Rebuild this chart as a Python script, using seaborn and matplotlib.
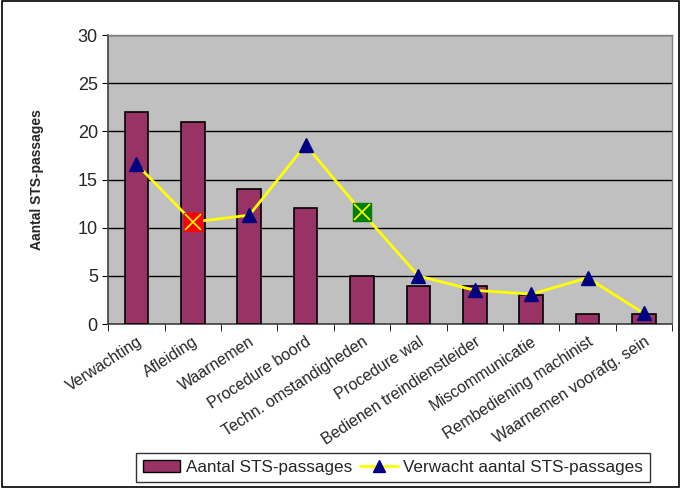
import numpy as np
import pandas as pd
import matplotlib
matplotlib.use('Agg')
import matplotlib.pyplot as plt
import seaborn as sns
from matplotlib.lines import Line2D
from matplotlib.patches import Patch

# data
oorzaken = ['Verwachting', 'Afleiding', 'Waarnemen', 'Procedure boord',
            'Techn. omstandigheden', 'Procedure wal', 'Bedienen treindienstleider',
            'Miscommunicatie', 'Rembediening machinist', 'Waarnemen voorafg. sein']
aantal = [22, 21, 14, 12, 5, 4, 4, 3, 1, 1]
verwacht = [16.6, 10.6, 11.3, 18.6, 11.6, 5.0, 3.5, 3.1, 4.8, 1.1]

df = pd.DataFrame({'oorzaak': oorzaken, 'aantal': aantal, 'verwacht': verwacht})

sns.set_style('white')
plt.rcParams['font.family'] = ['Liberation Sans', 'DejaVu Sans']

fig = plt.figure(figsize=(6.81, 4.88), dpi=100)
ax = fig.add_axes([0.159, 0.336, 0.828, 0.592])
ax.set_facecolor('#C0C0C0')

sns.barplot(data=df, x='oorzaak', y='aantal', color='#993366', width=0.42,
            edgecolor='black', linewidth=1.2, saturation=1, ax=ax, zorder=3)

x = np.arange(len(oorzaken))
ax.plot(x, verwacht, color='#FFFF00', lw=2, marker='^', ms=10,
        mfc='#000080', mec='#000080', zorder=4)

# afwijkende punten
for i, kleur in [(1, '#FF0000'), (4, '#008000')]:
    ax.plot(x[i], verwacht[i], marker='s', ms=13, mfc=kleur, mec=kleur, zorder=5)
    ax.plot(x[i], verwacht[i], marker='x', ms=11, mew=1.2, color='#FFFF00', zorder=6)

ax.set_ylim(0, 30)
ax.set_xlim(-0.5, len(oorzaken) - 0.5)
ax.set_yticks(range(0, 31, 5))
ax.yaxis.grid(True, color='black', lw=1)
ax.set_axisbelow(True)
ax.tick_params(axis='y', labelsize=13, length=4, direction='out', left=True, color='black')

ax.set_xticks(x)
ax.set_xticklabels(oorzaken, rotation=33, ha='right', rotation_mode='anchor', fontsize=11.5)
ax.tick_params(axis='x', length=0, pad=7)
ax.set_xticks(np.arange(-0.5, len(oorzaken)), minor=True)
ax.tick_params(axis='x', which='minor', length=5, color='black', direction='out', bottom=True)

ax.set_xlabel('')
ax.set_ylabel('Aantal STS-passages', fontsize=10, fontweight='bold', labelpad=24)

for s in ['left', 'bottom']:
    ax.spines[s].set_color('#404040')
    ax.spines[s].set_linewidth(1.2)
for s in ['top', 'right']:
    ax.spines[s].set_color('#808080')
    ax.spines[s].set_linewidth(1)

handles = [Patch(facecolor='#993366', edgecolor='black', label='Aantal STS-passages'),
           Line2D([0], [0], color='#FFFF00', lw=2, marker='^', ms=9, mfc='#000080',
                  mec='#000080', label='Verwacht aantal STS-passages')]
leg = fig.legend(handles=handles, loc='center', bbox_to_anchor=(0.577, 0.042), ncol=2,
                 fontsize=12.3, frameon=True, fancybox=False, edgecolor='black',
                 handlelength=2.2, handletextpad=0.3, columnspacing=0.5,
                 borderpad=0.4)
leg.get_frame().set_linewidth(1)

# buitenrand
fig.patches.append(plt.Rectangle((0.003, 0.003), 0.994, 0.994, transform=fig.transFigure,
                                 fill=False, edgecolor='black', lw=1.2))

fig.savefig('out.png', dpi=100)
